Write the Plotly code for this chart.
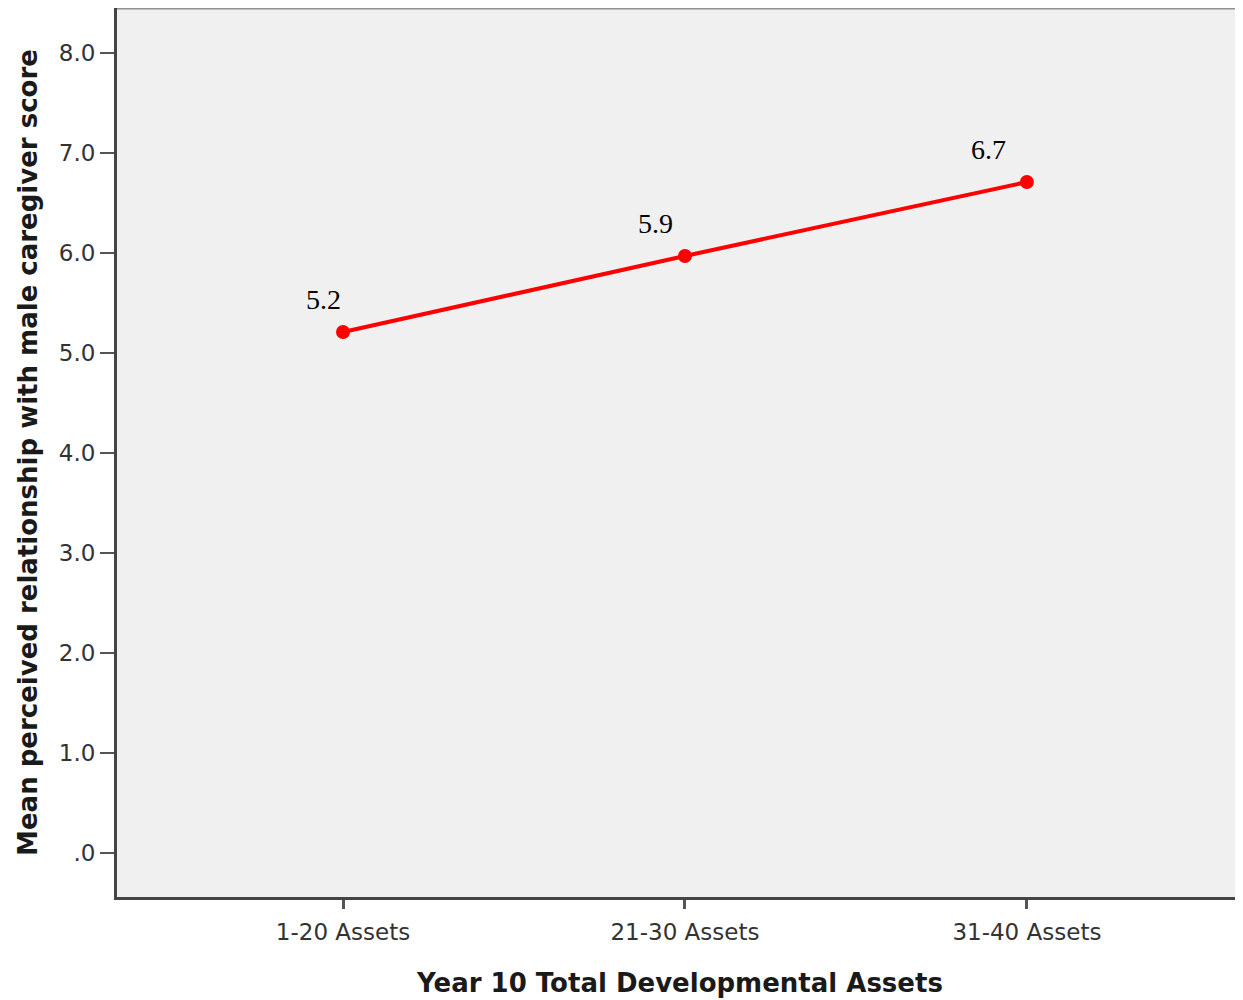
import plotly.graph_objects as go

categories = ["1-20 Assets", "21-30 Assets", "31-40 Assets"]
means = [5.21, 5.97, 6.71]
point_labels = ["5.2", "5.9", "6.7"]
y_tick_vals = [0, 1, 2, 3, 4, 5, 6, 7, 8]
y_tick_text = [".0", "1.0", "2.0", "3.0", "4.0", "5.0", "6.0", "7.0", "8.0"]

xpos = list(range(len(categories)))

fig = go.Figure()
fig.add_trace(go.Scatter(
    x=xpos, y=means, mode="lines+markers",
    line=dict(color="#FF0000", width=4),
    marker=dict(color="#FF0000", size=14),
    hoverinfo="skip", showlegend=False,
))

for i, (xi, yi, t) in enumerate(zip(xpos, means, point_labels)):
    fig.add_annotation(
        x=xi, y=yi, text=t, showarrow=False,
        xshift=-20 - 9 * i, yshift=33,
        font=dict(family="Liberation Serif, Times New Roman, serif", size=28, color="black"),
    )

# top border of plot area
fig.add_shape(type="line", xref="paper", yref="paper", x0=0, x1=1, y0=1, y1=1,
              line=dict(color="#909090", width=3))

fig.update_layout(
    width=1235, height=992,
    margin=dict(l=109, r=0, t=0, b=103),
    paper_bgcolor="white",
    plot_bgcolor="#F0F0F0",
    font=dict(family="DejaVu Sans, sans-serif", color="#333333"),
)
fig.update_xaxes(
    range=[-0.661, 2.632],
    tickvals=xpos, ticktext=categories,
    showgrid=False, zeroline=False,
    showline=True, linecolor="#444444", linewidth=3,
    ticks="outside", ticklen=9, tickwidth=3, tickcolor="#555555",
    ticklabelstandoff=3,
    tickfont=dict(family="DejaVu Sans, sans-serif", size=23, color="#333333"),
    title=dict(text="<b>Year 10 Total Developmental Assets</b>",
               font=dict(family="DejaVu Sans, sans-serif", size=26, color="#1a1a1a"), standoff=31),
)
fig.update_yaxes(
    range=[-0.44, 8.45],
    tickvals=y_tick_vals, ticktext=y_tick_text,
    showgrid=False, zeroline=False,
    showline=True, linecolor="#444444", linewidth=3,
    ticks="outside", ticklen=14, tickwidth=2, tickcolor="#555555",
    tickfont=dict(family="DejaVu Sans, sans-serif", size=23, color="#333333"),
    title=dict(text="<b>Mean perceived relationship with male caregiver score</b>",
               font=dict(family="DejaVu Sans, sans-serif", size=26, color="#1a1a1a"), standoff=14),
)

fig.write_html("out.html")
